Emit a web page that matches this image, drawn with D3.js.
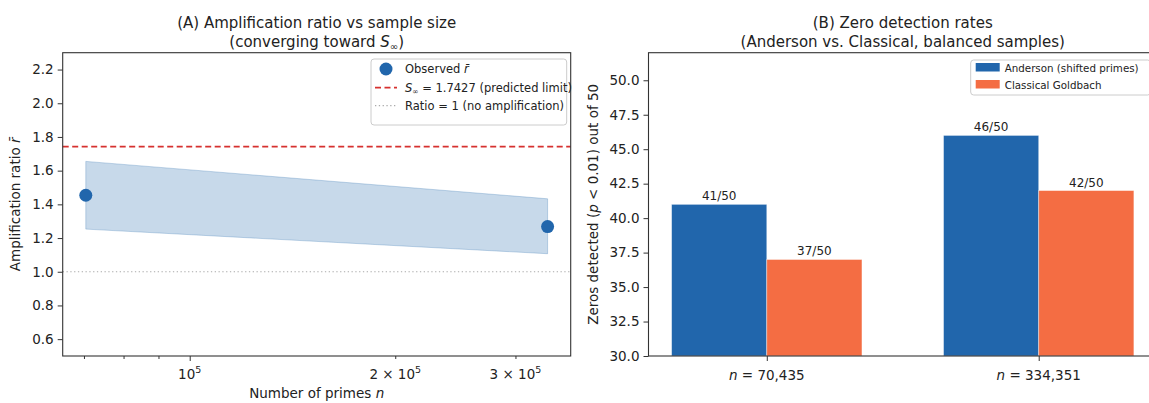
<!DOCTYPE html>
<html lang="en">
<head>
<meta charset="utf-8">
<title>Amplification ratio and zero detection rates</title>
<script src="https://cdn.jsdelivr.net/npm/d3@7"></script>
<style>
  body { margin: 0; background: #fff; }
  svg text { font-family: "DejaVu Sans", sans-serif; fill: #222; }
  .tick text { font-size: 13.5px; }
  .axis path, .axis line { stroke: #333; }
</style>
</head>
<body>
<div id="chart"></div>
<script>
// ---- data ----
var nPrimes = [70435, 334351];
var ratioObserved = [1.454, 1.268];
var bandUpper = [1.655, 1.433];
var bandLower = [1.253, 1.107];
var sInfinity = 1.7427;
var noAmp = 1;
var ratioTicks = [0.6, 0.8, 1.0, 1.2, 1.4, 1.6, 1.8, 2.0, 2.2];

var groups = ["70,435", "334,351"];
var anderson = [41, 46];
var classical = [37, 42];
var trials = 50;
var zeroTicks = [30, 32.5, 35, 37.5, 40, 42.5, 45, 47.5, 50];

var blue = "#2166ac", orange = "#f46d43", red = "#d6312f";

var w = 1149, h = 403;
var svg = d3.select("#chart").append("svg").attr("width", w).attr("height", h);

// ================= panel A =================
var A = {left: 62.7, right: 570.7, top: 52.7, bottom: 356};

var lx = [Math.log10(d3.min(nPrimes)), Math.log10(d3.max(nPrimes))];
var lpad = (lx[1] - lx[0]) * 0.05;
var xA = d3.scaleLog()
  .domain([Math.pow(10, lx[0] - lpad), Math.pow(10, lx[1] + lpad)])
  .range([A.left, A.right]);
var yA = d3.scaleLinear().domain([0.5, 2.3]).range([A.bottom, A.top]);

var gA = svg.append("g");

// band
var band = nPrimes.map(function(n, i){ return {n: n, lo: bandLower[i], hi: bandUpper[i]}; });
gA.append("path")
  .datum(band)
  .attr("d", d3.area().x(function(d){ return xA(d.n); })
    .y0(function(d){ return yA(d.lo); }).y1(function(d){ return yA(d.hi); }))
  .attr("fill", blue).attr("fill-opacity", 0.25)
  .attr("stroke", blue).attr("stroke-opacity", 0.25).attr("stroke-width", 1);

// reference lines
gA.append("line")
  .attr("x1", A.left).attr("x2", A.right)
  .attr("y1", yA(sInfinity)).attr("y2", yA(sInfinity))
  .attr("stroke", red).attr("stroke-width", 1.8).attr("stroke-dasharray", "6,3.5");
gA.append("line")
  .attr("x1", A.left).attr("x2", A.right)
  .attr("y1", yA(noAmp)).attr("y2", yA(noAmp))
  .attr("stroke", "#aaa").attr("stroke-width", 1.2).attr("stroke-dasharray", "1.3,2.5");

// points
gA.selectAll("circle.obs")
  .data(nPrimes)
  .enter().append("circle")
  .attr("class", "obs")
  .attr("cx", function(d){ return xA(d); })
  .attr("cy", function(d, i){ return yA(ratioObserved[i]); })
  .attr("r", 6.5)
  .attr("fill", blue);

// axes
var yAxisA = d3.axisLeft(yA).tickValues(ratioTicks).tickSize(5).tickPadding(4)
  .tickFormat(d3.format(".1f"));
gA.append("g").attr("class", "axis").attr("transform", "translate(" + A.left + ",0)")
  .call(yAxisA).call(function(g){ g.select(".domain").remove(); });

var xAxisMajor = d3.axisBottom(xA).tickValues([1e5]).tickSize(5).tickPadding(5).tickFormat("");
var xAxisMinor = d3.axisBottom(xA).tickValues([7e4, 8e4, 9e4, 2e5, 3e5]).tickSize(3).tickPadding(7).tickFormat("");
gA.append("g").attr("class", "axis").attr("transform", "translate(0," + A.bottom + ")")
  .call(xAxisMajor).call(function(g){ g.select(".domain").remove(); });
gA.append("g").attr("class", "axis").attr("transform", "translate(0," + A.bottom + ")")
  .call(xAxisMinor).call(function(g){ g.select(".domain").remove(); });

var xLabels = [{v: 1e5, m: ""}, {v: 2e5, m: "2 \u00d7 "}, {v: 3e5, m: "3 \u00d7 "}];
xLabels.forEach(function(t){
  var tx = gA.append("text").attr("x", xA(t.v)).attr("y", A.bottom + 23)
    .attr("text-anchor", "middle").style("font-size", "13.5px");
  tx.append("tspan").text(t.m + "10");
  tx.append("tspan").attr("dy", -6).style("font-size", "9.5px").text("5");
});

gA.append("rect")
  .attr("x", A.left).attr("y", A.top)
  .attr("width", A.right - A.left).attr("height", A.bottom - A.top)
  .attr("fill", "none").attr("stroke", "#333").attr("stroke-width", 1.1);

// labels
var xlA = gA.append("text").attr("x", (A.left + A.right) / 2).attr("y", 398)
  .attr("text-anchor", "middle").style("font-size", "13.5px");
xlA.append("tspan").text("Number of primes ");
xlA.append("tspan").style("font-style", "italic").text("n");

var ylA = gA.append("text")
  .attr("transform", "translate(20," + ((A.top + A.bottom) / 2) + ") rotate(-90)")
  .attr("text-anchor", "middle").style("font-size", "13.5px");
ylA.append("tspan").text("Amplification ratio ");
ylA.append("tspan").style("font-style", "italic").text("r\u0304");

gA.append("text").attr("x", (A.left + A.right) / 2).attr("y", 28)
  .attr("text-anchor", "middle").style("font-size", "15px")
  .text("(A) Amplification ratio vs sample size");
var tA2 = gA.append("text").attr("x", (A.left + A.right) / 2).attr("y", 47)
  .attr("text-anchor", "middle").style("font-size", "15px");
tA2.append("tspan").text("(converging toward ");
tA2.append("tspan").style("font-style", "italic").text("S");
tA2.append("tspan").attr("dy", 3).style("font-size", "10px").text("\u221e");
tA2.append("tspan").attr("dy", -3).text(")");

// legend A
var legA = gA.append("g").attr("transform", "translate(371,59)");
legA.append("rect").attr("width", 195.7).attr("height", 66).attr("rx", 3)
  .attr("fill", "#fff").attr("fill-opacity", 0.8).attr("stroke", "#ccc");
legA.append("circle").attr("cx", 15).attr("cy", 10).attr("r", 6.5).attr("fill", blue);
legA.append("line").attr("x1", 4).attr("x2", 26).attr("y1", 28.7).attr("y2", 28.7)
  .attr("stroke", red).attr("stroke-width", 1.8).attr("stroke-dasharray", "6,3.5");
legA.append("line").attr("x1", 4).attr("x2", 26).attr("y1", 46.7).attr("y2", 46.7)
  .attr("stroke", "#aaa").attr("stroke-width", 1.2).attr("stroke-dasharray", "1.3,2.5");
var l1 = legA.append("text").attr("x", 34).attr("y", 14).style("font-size", "11.5px");
l1.append("tspan").text("Observed ");
l1.append("tspan").style("font-style", "italic").text("r\u0304");
var l2 = legA.append("text").attr("x", 34).attr("y", 32.7).style("font-size", "11.5px");
l2.append("tspan").style("font-style", "italic").text("S");
l2.append("tspan").attr("dy", 2.5).style("font-size", "7.5px").text("\u221e");
l2.append("tspan").attr("dy", -2.5).text(" = " + sInfinity.toFixed(4) + " (predicted limit)");
legA.append("text").attr("x", 34).attr("y", 50.7).style("font-size", "11.5px")
  .text("Ratio = " + noAmp + " (no amplification)");

// ================= panel B =================
var B = {left: 648.5, right: 1157, top: 52.7, bottom: 356};
var barW = 0.35;
var xB = d3.scaleLinear().domain([-0.35 - 0.085, 1.35 + 0.085]).range([B.left, B.right]);
var yB = d3.scaleLinear().domain([30, 52]).range([B.bottom, B.top]);

var gB = svg.append("g");

var series = [
  {name: "Anderson (shifted primes)", vals: anderson, color: blue, off: -barW / 2},
  {name: "Classical Goldbach", vals: classical, color: orange, off: barW / 2}
];

series.forEach(function(s){
  gB.selectAll(null)
    .data(s.vals)
    .enter().append("rect")
    .attr("x", function(d, i){ return xB(i + s.off - barW / 2); })
    .attr("width", xB(barW) - xB(0))
    .attr("y", function(d){ return yB(d); })
    .attr("height", function(d){ return yB(30) - yB(d); })
    .attr("fill", s.color)
    .attr("stroke", "#fff").attr("stroke-opacity", 0.5).attr("stroke-width", 0.8);
  gB.selectAll(null)
    .data(s.vals)
    .enter().append("text")
    .attr("x", function(d, i){ return xB(i + s.off); })
    .attr("y", function(d){ return yB(d) - 4; })
    .attr("text-anchor", "middle").style("font-size", "12px")
    .text(function(d){ return d + "/" + trials; });
});

var yAxisB = d3.axisLeft(yB).tickValues(zeroTicks).tickSize(5).tickPadding(4)
  .tickFormat(d3.format(".1f"));
gB.append("g").attr("class", "axis").attr("transform", "translate(" + B.left + ",0)")
  .call(yAxisB).call(function(g){ g.select(".domain").remove(); });

var xAxisB = d3.axisBottom(xB).tickValues([0, 1]).tickSize(5).tickFormat("");
gB.append("g").attr("class", "axis").attr("transform", "translate(0," + B.bottom + ")")
  .call(xAxisB).call(function(g){ g.select(".domain").remove(); });
groups.forEach(function(gname, i){
  var t = gB.append("text").attr("x", xB(i)).attr("y", B.bottom + 24)
    .attr("text-anchor", "middle").style("font-size", "13.5px");
  t.append("tspan").style("font-style", "italic").text("n");
  t.append("tspan").text(" = " + gname);
});

gB.append("rect")
  .attr("x", B.left).attr("y", B.top)
  .attr("width", B.right - B.left).attr("height", B.bottom - B.top)
  .attr("fill", "none").attr("stroke", "#333").attr("stroke-width", 1.1);

var ylB = gB.append("text")
  .attr("transform", "translate(598," + ((B.top + B.bottom) / 2) + ") rotate(-90)")
  .attr("text-anchor", "middle").style("font-size", "13.5px");
ylB.append("tspan").text("Zeros detected (");
ylB.append("tspan").style("font-style", "italic").text("p");
ylB.append("tspan").text(" < 0.01) out of " + trials);

gB.append("text").attr("x", (B.left + B.right) / 2).attr("y", 28)
  .attr("text-anchor", "middle").style("font-size", "15px")
  .text("(B) Zero detection rates");
gB.append("text").attr("x", (B.left + B.right) / 2).attr("y", 47)
  .attr("text-anchor", "middle").style("font-size", "15px")
  .text("(Anderson vs. Classical, balanced samples)");

var legB = gB.append("g").attr("transform", "translate(970.7,60)");
legB.append("rect").attr("width", 180).attr("height", 35).attr("rx", 3)
  .attr("fill", "#fff").attr("fill-opacity", 0.8).attr("stroke", "#ccc");
series.forEach(function(s, i){
  legB.append("rect").attr("x", 5).attr("y", 3 + i * 17).attr("width", 24).attr("height", 8.5)
    .attr("fill", s.color);
  legB.append("text").attr("x", 34).attr("y", 11.5 + i * 17).style("font-size", "10.3px").text(s.name);
});
</script>
</body>
</html>
